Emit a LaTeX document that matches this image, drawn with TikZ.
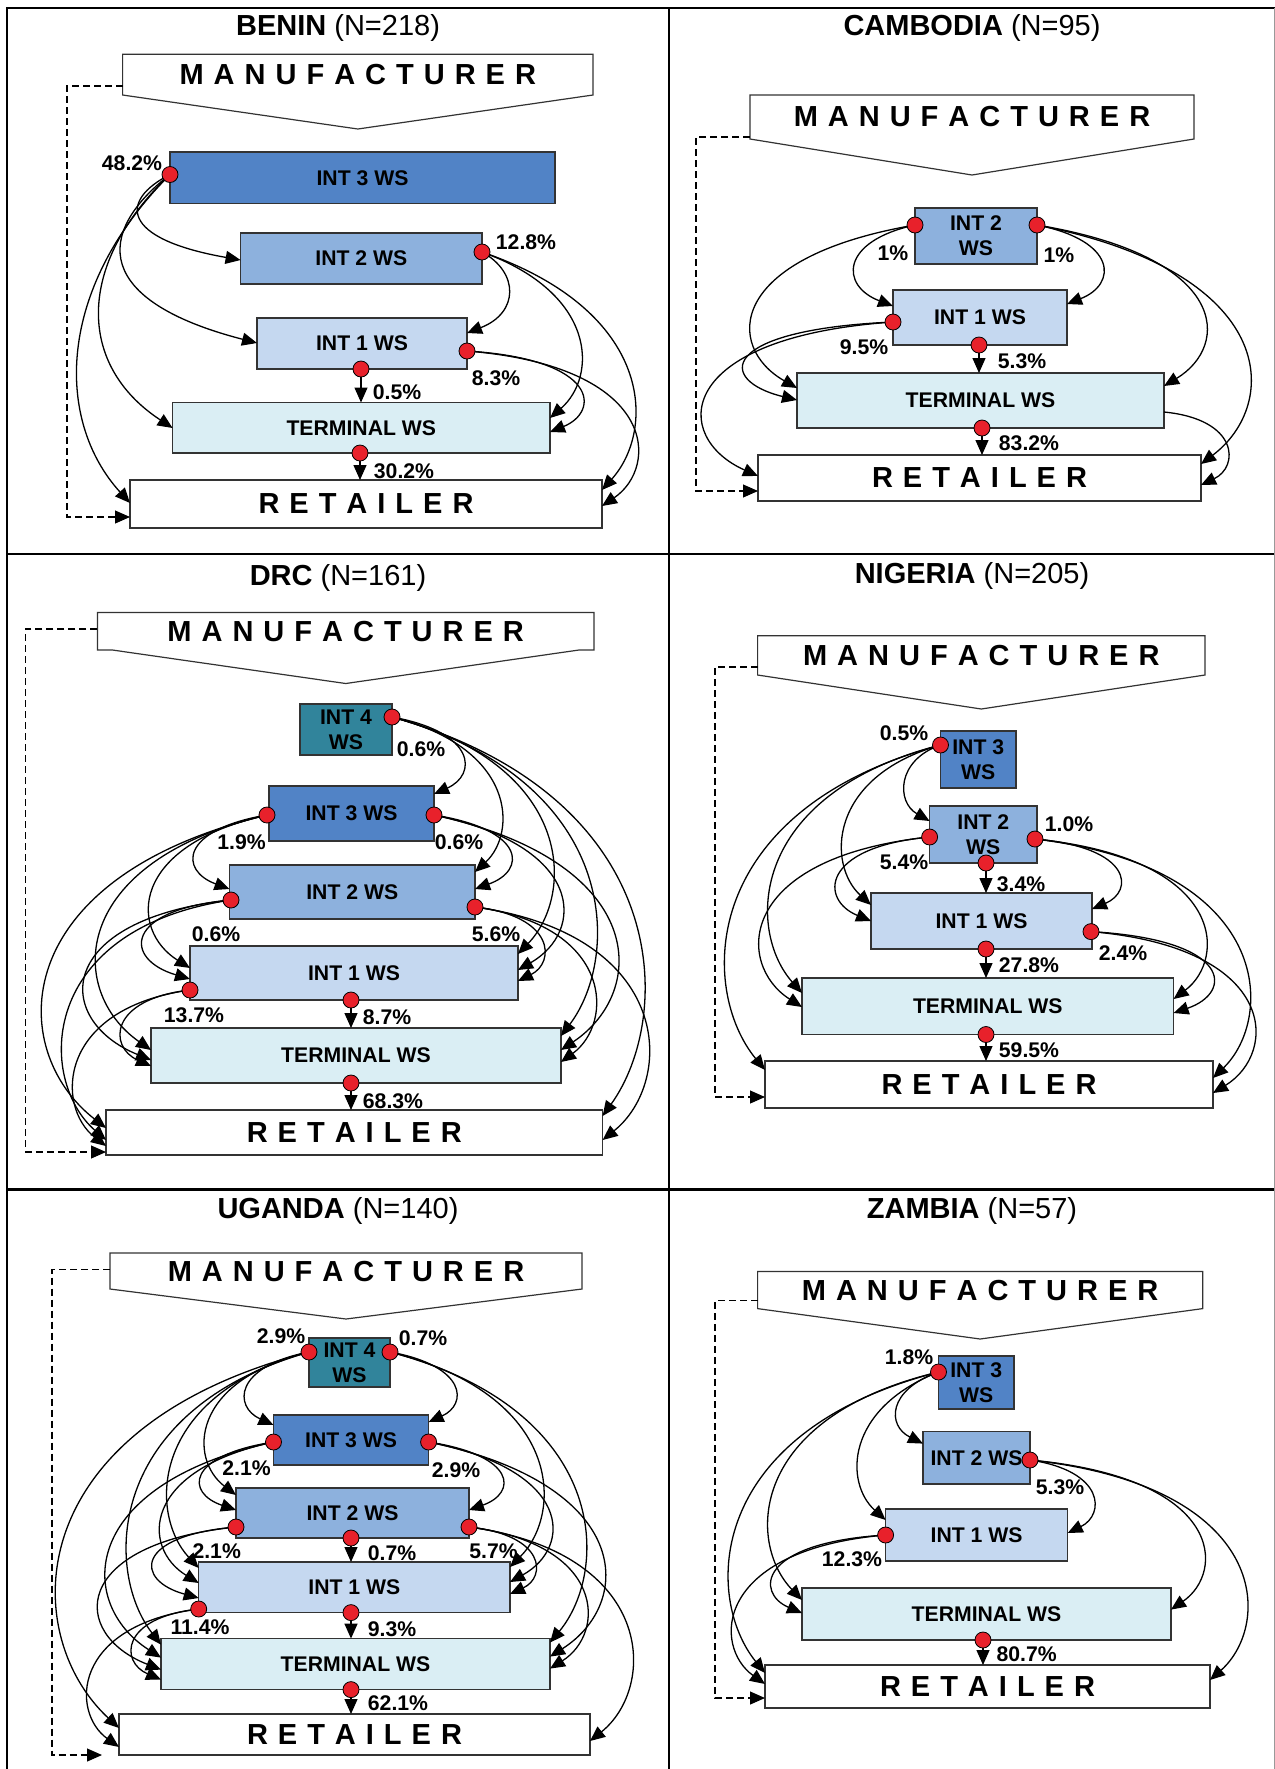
\documentclass[tikz,border=0pt]{standalone}
\usepackage{fontspec}
\setmainfont{Liberation Sans}
\usetikzlibrary{arrows.meta,calc}
\definecolor{cfour}{HTML}{31849B}
\definecolor{cthree}{HTML}{5183C6}
\definecolor{ctwo}{HTML}{8DB1DD}
\definecolor{cone}{HTML}{C5D8F0}
\definecolor{cterm}{HTML}{DAEEF4}
\definecolor{dotred}{HTML}{E8212B}
\newcommand\lsp{\hspace{5pt}}
\newcommand\mtext{M\lsp A\lsp N\lsp U\lsp F\lsp A\lsp C\lsp T\lsp U\lsp R\lsp E\lsp R}
\newcommand\rtext{R\lsp E\lsp T\lsp A\lsp I\lsp L\lsp E\lsp R}
\newcommand\bigfnt{\bfseries\fontsize{14.5}{16}\selectfont}
\tikzset{
  flow/.style={line width=0.65pt,-{Triangle[length=7.5pt,width=6.5pt]}},
  dsh/.style={line width=0.55pt,dash pattern=on 3.5pt off 2pt,-{Triangle[length=7.5pt,width=6.5pt]}},
  wsbox/.style={draw=black!80,line width=0.6pt,inner sep=0pt,outer sep=0pt,align=center,font=\bfseries\fontsize{10.6}{12.4}\selectfont},
  mbox/.style={inner sep=0pt,outer sep=0pt,font=\bigfnt},
  mshape/.style={draw=black!80,line width=0.6pt},
  dot/.style={circle,fill=dotred,draw=black,line width=0.4pt,minimum size=8pt,inner sep=0pt},
  lab/.style={font=\bfseries\fontsize{10.6}{12}\selectfont,inner sep=0pt},
  ttl/.style={font=\fontsize{14.5}{16}\selectfont,inner sep=0pt},
  framel/.style={line width=1.4pt,line cap=rect}
}
% box: name, x1, y1, x2, y2, options, text
\newcommand\wsb[7]{\node[wsbox,#6,minimum width={(#4-#2)*0.5pt},minimum height={(#5-#3)*0.5pt}] (#1) at ({(#2+#4)/2},{(#3+#5)/2}) {#7};}
% manufacturer: name, x1, y1, x2, y2, tip y, shoulder
\newcommand\mfr[7]{%
  \node[mbox,minimum width={(#4-#2)*0.5pt},minimum height={(#5-#3)*0.5pt}] (#1) at ({(#2+#4)/2},{(#3+#5)/2}) {\mtext};
  \coordinate (#1tip) at ({(#2+#4)/2},#6);
  \draw[mshape] (#1.south west) -- (#1.north west) -- (#1.north east) -- (#1.south east) -- ++(-#7,0) -- (#1tip) -- ($(#1.south west)+(#7,0)$) -- cycle;}
% curved flow: [start steepness], start, end, x of the bulge (px)
\newcommand\flc[4][0.2]{\draw[flow] let \p1=(#2), \p2=(#3) in (\p1) .. controls ({(#4*0.5pt-0.125*(\x1+\x2))/0.75},{\y1+#1*(\y2-\y1)}) and ({(#4*0.5pt-0.125*(\x1+\x2))/0.75},{\y2-0.25*(\y2-\y1)}) .. (\p2);}
\begin{document}
\begin{tikzpicture}[x=0.5pt,y=-0.5pt]
\useasboundingbox (0,0) rectangle (1275,1769);
\fill[white] (0,0) rectangle (1275,1769);
% frame
\draw[framel] (7,1769) -- (7,8) -- (1274,8);
\draw[framel] (669,8) -- (669,1769);
\draw[framel] (7,554) -- (1274,554);
\draw[framel] (7,1189.5) -- (1274,1189.5);
\draw[line width=0.5pt,black!40] (1274,8) -- (1274,1769);

%%%%%%%% BENIN
\node[ttl] (at) at (338,28) {\textbf{BENIN} (N=218)};
\mfr{am}{122.6}{54.2}{593}{95}{129}{0}
\wsb{a3}{170}{152}{555}{203.5}{fill=cthree}{INT 3 WS}
\wsb{a2}{240.6}{233}{482}{284}{fill=ctwo}{INT 2 WS}
\wsb{a1}{257}{318}{467}{369}{fill=cone}{INT 1 WS}
\wsb{aT}{172.6}{402.5}{550}{453}{fill=cterm}{TERMINAL WS}
\wsb{aR}{130}{480}{602}{528}{fill=white,font=\bigfnt}{\rtext}
\coordinate (a3L) at (170,174.5);
\coordinate (a2R) at (482,252);
\coordinate (a1R) at (467,351);
\coordinate (a1B) at (361,369);
\coordinate (aTB) at (360,453);
\coordinate (ad) at (67,517);
\draw[dsh] ($(am.south west)+(0,-9)$) -| (ad) -- (ad -| aR.west);
\flc[0.3]{a3L}{$(a2.north west)+(0,27)$}{141}
\flc[0.35]{a3L}{$(a1.north west)+(0,25)$}{124}
\flc[0.35]{a3L}{$(aT.north west)+(0,25.5)$}{100}
\flc[0.35]{a3L}{$(aR.north west)+(0,23)$}{79}
\flc[0.25]{a2R}{$(a1.north east)+(0,15)$}{508}
\flc[0.25]{a2R}{$(aT.north east)+(0,15.5)$}{577}
\flc[0.25]{a2R}{$(aR.north east)+(0,10)$}{627}
\flc[0.1]{a1R}{$(aT.north east)+(0,29.5)$}{577}
\flc[0.1]{a1R}{$(aR.north east)+(0,26)$}{628}
\draw[flow] (a1B) -- (a1B |- aT.north);
\draw[flow] (aTB) -- (aTB |- aR.north);
\node[lab] (al1) at (132,163) {48.2\%};
\node[lab] (al2) at (526,242) {12.8\%};
\node[lab] (al3) at (496,378) {8.3\%};
\node[lab] (al4) at (397,392) {0.5\%};
\node[lab] (al5) at (404,471) {30.2\%};

%%%%%%%% CAMBODIA
\node[ttl] (bt) at (972,28) {\textbf{CAMBODIA} (N=95)};
\mfr{bm}{750}{95}{1194}{139}{175}{0}
\wsb{b2}{915}{208}{1037}{264}{fill=ctwo}{INT 2\\WS}
\wsb{b1}{893}{290}{1067}{345}{fill=cone}{INT 1 WS}
\wsb{bT}{797}{373}{1164}{428}{fill=cterm}{TERMINAL WS}
\wsb{bR}{758}{455}{1201}{501}{fill=white,font=\bigfnt}{\rtext}
\coordinate (b2L) at (915,225);
\coordinate (b2R) at (1037,225);
\coordinate (b1L) at (893,322);
\coordinate (b1B) at (979,345);
\coordinate (bTB) at (982,428);
\coordinate (bTr) at ($(bT.north east)+(0,39)$);
\coordinate (bd) at (696,491);
\draw[dsh] ($(bm.south west)+(0,-2)$) -| (bd) -- (bd -| bR.west);
\flc{b2L}{$(b1.north west)+(0,16)$}{856}
\flc{b2L}{$(bT.north west)+(0,15)$}{758}
\flc{b2R}{$(b1.north east)+(0,14)$}{1101}
\flc{b2R}{$(bT.north east)+(0,13)$}{1198}
\flc{b2R}{$(bR.north east)+(0,9)$}{1240}
\flc[0.1]{b1L}{$(bT.north west)+(0,27)$}{749}
\flc[0.1]{b1L}{$(bR.north west)+(0,21)$}{710}
\flc[0.1]{bTr}{$(bR.north east)+(0,30)$}{1225}
\draw[flow] (b1B) -- (b1B |- bT.north);
\draw[flow] (bTB) -- (bTB |- bR.north);
\node[lab] (bl1) at (893,253) {1\%};
\node[lab] (bl2) at (1059,255) {1\%};
\node[lab] (bl3) at (864,347) {9.5\%};
\node[lab] (bl4) at (1022,361) {5.3\%};
\node[lab] (bl5) at (1029,443.5) {83.2\%};

%%%%%%%% DRC
\node[ttl] (ct) at (338,578) {\textbf{DRC} (N=161)};
\mfr{cm}{97.4}{612.4}{594}{650}{683.5}{15}
\wsb{c4}{300}{704}{392}{755}{fill=cfour}{INT 4\\WS}
\wsb{c3}{269}{786}{434}{841}{fill=cthree}{INT 3 WS}
\wsb{c2}{229.5}{865}{475}{919}{fill=ctwo}{INT 2 WS}
\wsb{c1}{190}{946}{518}{1000}{fill=cone}{INT 1 WS}
\wsb{cT}{151}{1028}{561}{1083}{fill=cterm}{TERMINAL WS}
\wsb{cR}{106}{1110}{602.6}{1155}{fill=white,font=\bigfnt}{\rtext}
\coordinate (c4R) at (392,717);
\coordinate (c3L) at (267,815);
\coordinate (c3R) at (434,815);
\coordinate (c2L) at (231,900);
\coordinate (c2R) at (475,907);
\coordinate (c1L) at (190,990);
\coordinate (c1B) at (351,1000);
\coordinate (cTB) at (351,1083);
\coordinate (cd) at (25.6,1152);
\draw[dsh] ($(cm.south west)+(0,-21)$) -| (cd) -- (cd -| cR.west);
\flc{c4R}{$(c3.north east)+(0,8)$}{461}
\flc{c4R}{$(c2.north east)+(0,7)$}{496}
\flc{c4R}{$(c1.north east)+(0,8)$}{545}
\flc{c4R}{$(cT.north east)+(0,8)$}{585}
\flc{c4R}{$(cR.north east)+(0,6)$}{630}
\flc{c3L}{$(c2.north west)+(0,24)$}{196.6}
\flc{c3L}{$(c1.north west)+(0,22)$}{154}
\flc{c3L}{$(cT.north west)+(0,22)$}{102.6}
\flc{c3L}{$(cR.north west)+(0,18)$}{51}
\flc{c3R}{$(c2.north east)+(0,24)$}{508.5}
\flc{c3R}{$(c1.north east)+(0,24)$}{558}
\flc{c3R}{$(cT.north east)+(0,22)$}{611}
\flc[0.12]{c2L}{$(c1.north west)+(0,33)$}{145}
\flc[0.12]{c2L}{$(cT.north west)+(0,32)$}{87.6}
\flc[0.12]{c2L}{$(cR.north west)+(0,30)$}{70}
\flc[0.12]{c2R}{$(c1.north east)+(0,35)$}{540.6}
\flc[0.12]{c2R}{$(cT.north east)+(0,34)$}{590}
\flc[0.12]{c2R}{$(cR.north east)+(0,30)$}{641}
\flc[0.12]{c1L}{$(cT.north west)+(0,38)$}{124}
\flc[0.12]{c1L}{$(cR.north west)+(0,36)$}{79}
\draw[flow] (c1B) -- (c1B |- cT.north);
\draw[flow] (cTB) -- (cTB |- cR.north);
\node[lab] (cl1) at (421,749) {0.6\%};
\node[lab] (cl2) at (241.5,842) {1.9\%};
\node[lab] (cl3) at (459,842) {0.6\%};
\node[lab] (cl4) at (216,934) {0.6\%};
\node[lab] (cl5) at (496,934) {5.6\%};
\node[lab] (cl6) at (194,1015) {13.7\%};
\node[lab] (cl7) at (387,1017) {8.7\%};
\node[lab] (cl8) at (393,1101) {68.3\%};

%%%%%%%% NIGERIA
\node[ttl] (dt) at (972,576) {\textbf{NIGERIA} (N=205)};
\mfr{dm}{757.6}{635.7}{1205}{675}{709}{0}
\wsb{d3}{940.5}{731}{1016}{788}{fill=cthree}{INT 3\\WS}
\wsb{d2}{929.6}{806}{1037}{863}{fill=ctwo}{INT 2\\WS}
\wsb{d1}{871}{893}{1092}{949}{fill=cone}{INT 1 WS}
\wsb{dT}{802}{978}{1173.6}{1034.5}{fill=cterm}{TERMINAL WS}
\wsb{dR}{765}{1061}{1213}{1108}{fill=white,font=\bigfnt}{\rtext}
\coordinate (d3L) at (940.5,745);
\coordinate (d2L) at (929.6,837);
\coordinate (d2R) at (1035,839);
\coordinate (d2B) at (986,863);
\coordinate (d1R) at (1091,931.6);
\coordinate (d1B) at (986,949);
\coordinate (dTB) at (986,1034.5);
\coordinate (dd) at (715,1097);
\draw[dsh] ($(dm.south west)+(0,-8)$) -| (dd) -- (dd -| dR.west);
\flc{d3L}{$(d2.north west)+(0,15)$}{906}
\flc{d3L}{$(d1.north west)+(0,12)$}{847}
\flc{d3L}{$(dT.north west)+(0,15)$}{778}
\flc{d3L}{$(dR.north west)+(0,9)$}{737}
\flc[0.12]{d2L}{$(d1.north west)+(0,28)$}{840}
\flc[0.12]{d2L}{$(dT.north west)+(0,29)$}{768}
\flc[0.12]{d2R}{$(d1.north east)+(0,16)$}{1116}
\flc[0.12]{d2R}{$(dT.north east)+(0,21)$}{1196}
\flc[0.12]{d2R}{$(dR.north east)+(0,17)$}{1237}
\flc[0.1]{d1R}{$(dT.north east)+(0,35)$}{1208}
\flc[0.1]{d1R}{$(dR.north east)+(0,32)$}{1247}
\draw[flow] (d2B) -- (d2B |- d1.north);
\draw[flow] (d1B) -- (d1B |- dT.north);
\draw[flow] (dTB) -- (dTB |- dR.north);
\node[lab] (dl1) at (904,733) {0.5\%};
\node[lab] (dl2) at (1069,824) {1.0\%};
\node[lab] (dl3) at (904,862) {5.4\%};
\node[lab] (dl4) at (1021,884) {3.4\%};
\node[lab] (dl5) at (1123,953) {2.4\%};
\node[lab] (dl6) at (1029,965.5) {27.8\%};
\node[lab] (dl7) at (1029,1050) {59.5\%};

%%%%%%%% UGANDA
\node[ttl] (et) at (338,1211) {\textbf{UGANDA} (N=140)};
\mfr{em}{110}{1253}{582}{1289}{1319}{0}
\wsb{e4}{309}{1338}{390}{1387}{fill=cfour}{INT 4\\WS}
\wsb{e3}{273.5}{1415}{428.6}{1465}{fill=cthree}{INT 3 WS}
\wsb{e2}{236}{1488}{469}{1538}{fill=ctwo}{INT 2 WS}
\wsb{e1}{198.7}{1562}{510}{1612.6}{fill=cone}{INT 1 WS}
\wsb{eT}{161}{1638.6}{550}{1689.6}{fill=cterm}{TERMINAL WS}
\wsb{eR}{119}{1714}{590}{1755}{fill=white,font=\bigfnt}{\rtext}
\coordinate (e4L) at (309,1352);
\coordinate (e4R) at (390,1352);
\coordinate (e3L) at (273.5,1442);
\coordinate (e3R) at (428.6,1442);
\coordinate (e2L) at (236,1527);
\coordinate (e2R) at (469,1527);
\coordinate (e2B) at (351,1538);
\coordinate (e1L) at (198.7,1609);
\coordinate (e1B) at (351,1612.6);
\coordinate (eTB) at (351,1689.6);
\coordinate (edc) at (52,1755);
\coordinate (ede) at (102,1755);
\draw[dsh] ($(em.south west)+(0,-19.5)$) -| (edc) -- (ede);
\flc{e4L}{$(e3.north west)+(0,10)$}{248}
\flc{e4L}{$(e2.north west)+(0,7)$}{210}
\flc{e4L}{$(e1.north west)+(0,6)$}{175}
\flc{e4L}{$(eT.north west)+(0,6)$}{137}
\flc{e4L}{$(eR.north west)+(0,14)$}{67}
\flc{e3L}{$(e2.north west)+(0,22)$}{203}
\flc{e3L}{$(e1.north west)+(0,21)$}{165}
\flc{e3L}{$(eT.north west)+(0,19)$}{112}
\flc[0.12]{e2L}{$(e1.north west)+(0,36)$}{155}
\flc[0.12]{e2L}{$(eT.north west)+(0,31)$}{102}
\flc[0.12]{e1L}{$(eT.north west)+(0,41)$}{135}
\flc[0.12]{e1L}{$(eR.north west)+(0,33)$}{93}
\flc{e4R}{$(e3.north east)+(0,7)$}{453}
\flc{e4R}{$(e1.north east)+(0,5)$}{535}
\flc{e4R}{$(eT.north east)+(0,4)$}{575}
\flc{e3R}{$(e2.north east)+(0,22)$}{500}
\flc{e3R}{$(e1.north east)+(0,20)$}{547}
\flc{e3R}{$(eT.north east)+(0,18)$}{598}
\flc[0.12]{e2R}{$(e1.north east)+(0,32)$}{532}
\flc[0.12]{e2R}{$(eT.north east)+(0,30)$}{582}
\flc[0.12]{e2R}{$(eR.north east)+(0,27)$}{625}
\draw[flow] (e2B) -- (e2B |- e1.north);
\draw[flow] (e1B) -- (e1B |- eT.north);
\draw[flow] (eTB) -- (eTB |- eR.north);
\node[lab] (el1) at (281,1336) {2.9\%};
\node[lab] (el2) at (423,1338) {0.7\%};
\node[lab] (el3) at (246.6,1468) {2.1\%};
\node[lab] (el4) at (456,1470) {2.9\%};
\node[lab] (el5) at (216.7,1551) {2.1\%};
\node[lab] (el6) at (392,1553) {0.7\%};
\node[lab] (el7) at (493.6,1551) {5.7\%};
\node[lab] (el8) at (200,1627.5) {11.4\%};
\node[lab] (el9) at (392,1629) {9.3\%};
\node[lab] (el10) at (398,1702.7) {62.1\%};

%%%%%%%% ZAMBIA
\node[ttl] (ft) at (972,1211) {\textbf{ZAMBIA} (N=57)};
\mfr{fm}{757.6}{1271.4}{1202.7}{1308.6}{1339}{0}
\wsb{f3}{938.5}{1356}{1014}{1409}{fill=cthree}{INT 3\\WS}
\wsb{f2}{923}{1431.6}{1030}{1484}{fill=ctwo}{INT 2 WS}
\wsb{f1}{885.6}{1509}{1067.7}{1561}{fill=cone}{INT 1 WS}
\wsb{fT}{802}{1588}{1171}{1640}{fill=cterm}{TERMINAL WS}
\wsb{fR}{765}{1665}{1210}{1708}{fill=white,font=\bigfnt}{\rtext}
\coordinate (f3L) at (938.5,1372);
\coordinate (f2R) at (1030,1460);
\coordinate (f1L) at (885.6,1535);
\coordinate (fTB) at (983,1640);
\coordinate (fd) at (715,1698);
\draw[dsh] ($(fm.south west)+(0,-8)$) -| (fd) -- (fd -| fR.west);
\flc[0.25]{f3L}{$(f2.north west)+(0,12)$}{898}
\flc[0.25]{f3L}{$(f1.north west)+(0,11)$}{861.5}
\flc{f3L}{$(fT.north west)+(0,12)$}{778}
\flc{f3L}{$(fR.north west)+(0,8)$}{741}
\flc[0.15]{f2R}{$(f1.north east)+(0,24)$}{1091}
\flc[0.12]{f2R}{$(fT.north east)+(0,21.6)$}{1194}
\flc[0.12]{f2R}{$(fR.north east)+(0,15)$}{1234}
\flc[0.1]{f1L}{$(fT.north west)+(0,25)$}{778}
\flc[0.1]{f1L}{$(fR.north west)+(0,19)$}{741}
\draw[flow] (fTB) -- (fTB |- fR.north);
\node[lab] (fl1) at (909,1357) {1.8\%};
\node[lab] (fl2) at (1060,1487.4) {5.3\%};
\node[lab] (fl3) at (852,1559) {12.3\%};
\node[lab] (fl4) at (1026.6,1654) {80.7\%};

%%%%%%%% dots on top
\foreach \d in {a3L,a2R,a1R,a1B,aTB,b2L,b2R,b1L,b1B,bTB,c4R,c3L,c3R,c2L,c2R,c1L,c1B,cTB,d3L,d2L,d2R,d2B,d1R,d1B,dTB,e4L,e4R,e3L,e3R,e2L,e2R,e2B,e1L,e1B,eTB,f3L,f2R,f1L,fTB}
  \node[dot] (\d-dot) at (\d) {};
\end{tikzpicture}
\end{document}
